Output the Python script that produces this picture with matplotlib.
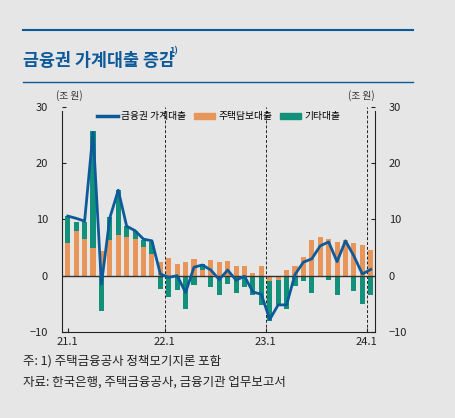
import matplotlib
matplotlib.use("Agg")
from matplotlib import pyplot as plt
from matplotlib.lines import Line2D
from matplotlib.patches import Patch

plt.rcParams['font.family'] = ['Noto Sans CJK KR', 'DejaVu Sans']

# monthly changes, 21.1 .. 24.1 (trillion won)
mortgage = [5.8, 7.9, 6.5, 5.0, 4.4, 6.3, 7.3, 6.9, 6.5, 5.1, 3.9, 2.5,
            3.1, 2.0, 2.4, 3.0, 1.0, 2.8, 2.5, 2.6, 1.8, 1.7, 0.4, 1.7,
            -0.9, -0.7, 1.0, 1.7, 3.4, 6.3, 6.8, 6.6, 6.0, 6.3, 5.9, 5.4, 4.6]
other = [4.8, 1.7, 3.1, 20.7, -6.2, 4.1, 8.0, 1.9, 1.5, 1.3, 2.1, -2.3,
         -3.8, -2.6, -6.0, -1.7, 1.0, -2.0, -3.5, -1.5, -3.0, -2.0, -3.5, -5.3,
         -7.1, -4.5, -6.0, -1.8, -1.0, -3.1, 0.0, -0.7, -3.4, 0.0, -2.7, -5.0, -3.5]
total = [10.6, 10.2, 9.7, 25.5, -1.5, 10.3, 15.2, 8.8, 8.0, 6.5, 6.2, 0.3,
         -0.3, 0.0, -3.0, 1.5, 1.9, 1.0, -0.7, 1.0, -0.8, -0.1, -2.9, -3.3,
         -7.8, -5.2, -5.2, 0.2, 2.4, 3.0, 5.3, 6.0, 2.5, 6.2, 3.5, 0.3, 1.1]
tick_labels = ['21.1', '22.1', '23.1', '24.1']

bg = '#e6e6e6'
navy = '#0d5a9a'
orange = '#e8955a'
green = '#11917a'

fig = plt.figure(figsize=(4.55, 4.18), dpi=100, facecolor=bg)
ax = fig.add_axes([0.136, 0.206, 0.688, 0.538], facecolor=bg)

n = len(total)
xs = list(range(n))
# green sits on top of orange when positive, below zero when negative
g_bottom = []
for m, g in zip(mortgage, other):
    if g >= 0:
        g_bottom.append(max(m, 0))
    else:
        g_bottom.append(min(m, 0))
ax.bar(xs, mortgage, width=0.6, color=orange, zorder=2)
ax.bar(xs, other, width=0.6, color=green, bottom=g_bottom, zorder=2)
ax.plot(xs, total, color=navy, lw=2, zorder=3)
ax.axhline(0, color='#333333', lw=1, zorder=2.5)

for v in [11.5, 23.5, 35.5]:
    ax.axvline(v, color='#222222', lw=0.7, ls=(0, (3, 2)), zorder=1)

ax.set_xlim(-0.7, 36.5)
ax.set_ylim(-10, 30)
ax.set_yticks([-10, 0, 10, 20, 30])
ax.set_xticks([0, 11.5, 23.5, 35.5])
ax.set_xticklabels(tick_labels)
ax.spines['top'].set_visible(False)
for s in ['left', 'right', 'bottom']:
    ax.spines[s].set_color('#222222')
ax.spines['left'].set_bounds(-10, 29.3)
ax.spines['right'].set_bounds(-10, 29.3)
ax.tick_params(axis='y', direction='in', length=3, labelsize=8, colors='#222222',
               right=True, labelright=True, pad=10)
ax.tick_params(axis='x', direction='in', length=3, labelsize=8, colors='#222222')

ax.text(-0.02, 1.035, '(조 원)', transform=ax.transAxes, fontsize=7, color='#333333', ha='left')
ax.text(1.0, 1.035, '(조 원)', transform=ax.transAxes, fontsize=7, color='#333333', ha='right')

handles = [Line2D([], [], color=navy, lw=2.5),
           Patch(color=orange), Patch(color=green)]
ax.legend(handles, ['금융권 가계대출', '주택담보대출', '기타대출'], loc='upper center',
          bbox_to_anchor=(0.5, 1.02), ncol=3, frameon=False, fontsize=7,
          handlelength=2.2, handleheight=0.5, columnspacing=0.8, handletextpad=0.3)

fig.add_artist(Line2D([0.051, 0.908], [0.928, 0.928], color=navy, lw=1.5))
fig.add_artist(Line2D([0.051, 0.908], [0.804, 0.804], color=navy, lw=1))
fig.text(0.051, 0.842, '금융권 가계대출 증감', fontsize=12.5, fontweight='bold', color=navy)
fig.text(0.372, 0.872, '1)', fontsize=6.5, fontweight='bold', color=navy)

fig.text(0.051, 0.128, '주: 1) 주택금융공사 정책모기지론 포함', fontsize=9, color='#222222')
fig.text(0.051, 0.078, '자료: 한국은행, 주택금융공사, 금융기관 업무보고서', fontsize=9, color='#222222')

fig.savefig('out.png', dpi=100, facecolor=bg)
